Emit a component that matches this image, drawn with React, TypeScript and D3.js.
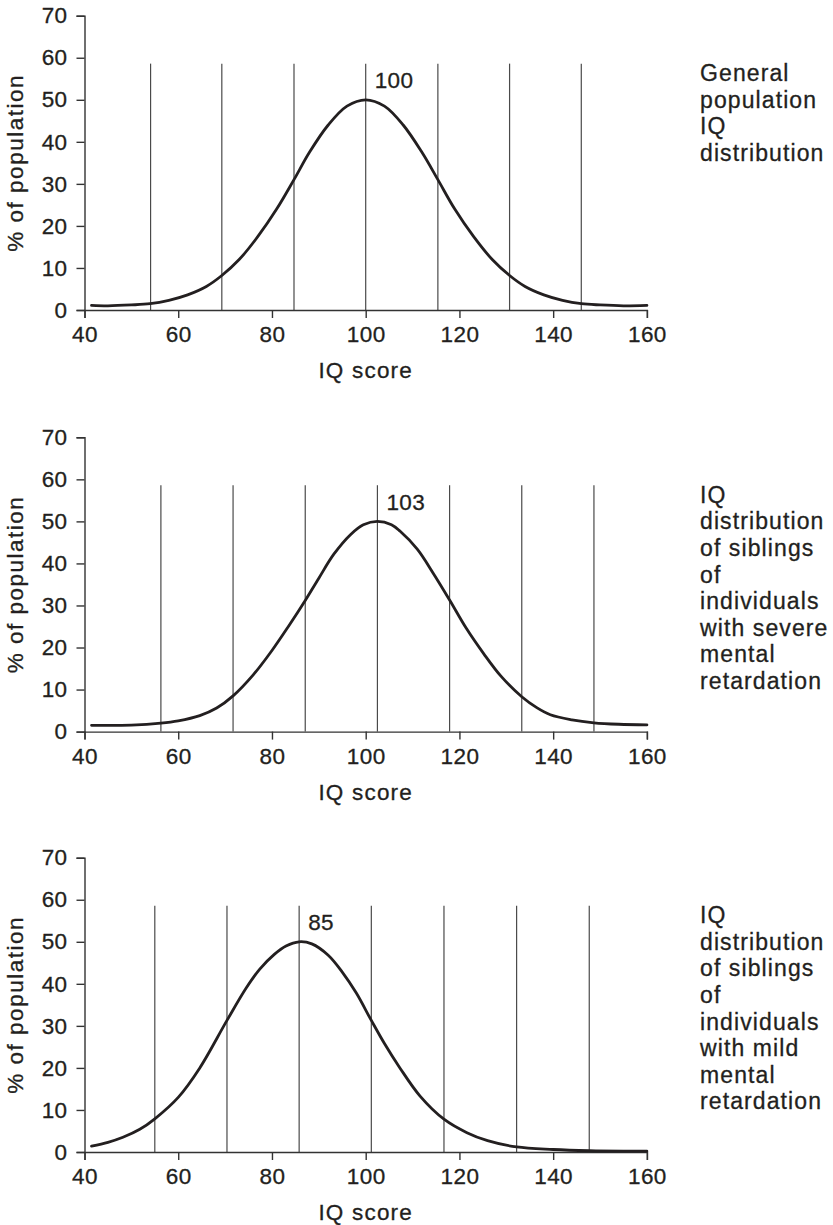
import React, {useEffect, useRef} from "react";
import * as d3 from "d3";

// values
const xTicks = [40, 60, 80, 100, 120, 140, 160];
const yTicks = [0, 10, 20, 30, 40, 50, 60, 70];

const iqGeneral = [41.5, 45, 50, 54, 58, 62, 66, 69.3, 73, 77, 81, 84.7, 88, 92, 96, 100, 104, 108, 112, 115.4, 119, 123, 127, 130.7, 134, 138, 142, 146, 150, 155, 160];
const pctGeneral = [1.1, 1.0, 1.2, 1.5, 2.3, 3.6, 5.6, 8.2, 12, 17.5, 24, 31, 37.5, 44, 48.5, 50, 48.5, 44, 37.5, 31, 24, 17.5, 12, 8.2, 5.6, 3.6, 2.3, 1.5, 1.2, 1.0, 1.1];
const guidesGeneral = [54.1, 69.3, 84.7, 100, 115.4, 130.7, 146];

const iqSevere = [41.5, 50, 56.3, 60, 64.6, 68.2, 71.7, 76, 80, 83.5, 87.1, 90, 93.2, 96.8, 99.5, 102.5, 105.5, 107.3, 111, 114.5, 117.9, 121.5, 125.2, 129, 133.3, 136.5, 139.4, 144, 148.7, 154, 160];
const pctSevere = [1.5, 1.55, 2.0, 2.55, 3.8, 5.6, 8.5, 13.5, 19.3, 25, 31.2, 36.5, 42.2, 46.9, 49.2, 50, 49.2, 47.7, 43.4, 37.5, 31.3, 24.5, 18.5, 13, 8.3, 5.7, 4.0, 2.8, 2.1, 1.75, 1.6];
const guidesSevere = [56.3, 71.7, 87.1, 102.5, 117.9, 133.3, 148.7];

const iqMild = [41.5, 45, 48.2, 51.8, 55, 60, 64.6, 70.4, 74.5, 77.4, 80.5, 83, 85.8, 88.5, 92, 95, 98, 101.2, 104, 107.3, 111.6, 116.7, 121.6, 126, 132.2, 140, 147.7, 155, 160];
const pctMild = [1.4, 2.3, 3.5, 5.4, 7.9, 13, 20, 31.3, 39, 43.5, 47, 49, 50, 49.5, 46.8, 42.8, 37.8, 31.3, 25.8, 20, 13.3, 7.8, 4.6, 2.7, 1.2, 0.6, 0.3, 0.2, 0.2];
const guidesMild = [55.0, 70.4, 85.8, 101.2, 116.7, 132.2, 147.7];

const peakLabels = ["100", "103", "85"];
const peakAt = [100, 102.5, 85.8];
const guideTop = 58.6;
const peakLabelLevel = 52.7;
const captionLevel = 54.4;

const captions = [
    ["General", "population", "IQ", "distribution"],
    ["IQ", "distribution", "of siblings", "of", "individuals", "with severe", "mental", "retardation"],
    ["IQ", "distribution", "of siblings", "of", "individuals", "with mild", "mental", "retardation"],
];

const panels = [
    {iq: iqGeneral, pct: pctGeneral, guides: guidesGeneral},
    {iq: iqSevere, pct: pctSevere, guides: guidesSevere},
    {iq: iqMild, pct: pctMild, guides: guidesMild},
];

const W = 833, H = 1225;
const FONT = "'Liberation Sans', Arial, Helvetica, sans-serif";
const INK = "#231f20";

const App = () => {
    const ref = useRef<SVGSVGElement>(null);

    useEffect(() => {
        if (!ref.current) return;
        const svg = d3.select(ref.current);
        svg.selectAll("*").remove();

        const x = d3.scaleLinear().domain([40, 160]).range([84.5, 646.9]);
        const tops = [15.7, 437.3, 857.7];
        const plotH = 294.3;

        // slightly heavier text, like the printed original
        const ink = (t: any, size: number, ls: number) =>
            t.attr("font-family", FONT)
                .attr("font-size", size)
                .attr("letter-spacing", ls)
                .attr("fill", INK)
                .attr("stroke", INK)
                .attr("stroke-width", 0.3);

        panels.forEach((p, i) => {
            const top = tops[i];
            const y = d3.scaleLinear().domain([0, 70]).range([top + plotH, top]);
            const g = svg.append("g");

            // guide lines
            g.selectAll("line.guide")
                .data(p.guides)
                .enter()
                .append("line")
                .attr("class", "guide")
                .attr("x1", d => x(d))
                .attr("x2", d => x(d))
                .attr("y1", y(0))
                .attr("y2", y(guideTop))
                .attr("stroke", "#4a4a4a")
                .attr("stroke-width", 1.2);

            // axes
            const yAxis = d3.axisLeft(y).tickValues(yTicks).tickSize(8).tickSizeOuter(8).tickPadding(9);
            const xAxis = d3.axisBottom(x).tickValues(xTicks).tickSize(8).tickSizeOuter(8).tickPadding(8);

            const gy = g.append("g")
                .attr("transform", `translate(${x(40)},0)`)
                .call(yAxis);
            const gx = g.append("g")
                .attr("transform", `translate(0,${y(0)})`)
                .call(xAxis);

            [gy, gx].forEach(a => {
                a.attr("color", "#333").attr("font-size", 22);
                a.selectAll("path, line").attr("stroke-width", 1.4);
                ink(a.selectAll("text"), 22.5, 0.4);
            });

            // curve
            const line = d3.line<number>()
                .x((d, k) => x(p.iq[k]))
                .y(d => y(d))
                .curve(d3.curveCatmullRom.alpha(0.5));

            g.append("path")
                .datum(p.pct)
                .attr("d", line)
                .attr("fill", "none")
                .attr("stroke", INK)
                .attr("stroke-width", 2.8)
                .attr("stroke-linecap", "round");

            // peak label
            ink(g.append("text"), 22.5, 0.4)
                .attr("x", x(peakAt[i]) + 9)
                .attr("y", y(peakLabelLevel))
                .text(peakLabels[i]);

            // axis titles
            ink(g.append("text"), 22.5, 1.2)
                .attr("x", (x(40) + x(160)) / 2)
                .attr("y", top + plotH + 68)
                .attr("text-anchor", "middle")
                .text("IQ score");

            ink(g.append("text"), 22.5, 1.5)
                .attr("transform", `translate(23,${top + plotH / 2}) rotate(-90)`)
                .attr("text-anchor", "middle")
                .text("% of population");

            // caption
            const cap = ink(g.append("text"), 23, 1.1);
            captions[i].forEach((t, k) => {
                cap.append("tspan")
                    .attr("x", 700)
                    .attr("y", y(captionLevel) + k * 26.6)
                    .text(t);
            });
        });
    }, []);

    return (
        <svg ref={ref} width={W} height={H}
             style={{position: "absolute", left: 0, top: 0, background: "#fff"}}></svg>
    );
};

export default App;
